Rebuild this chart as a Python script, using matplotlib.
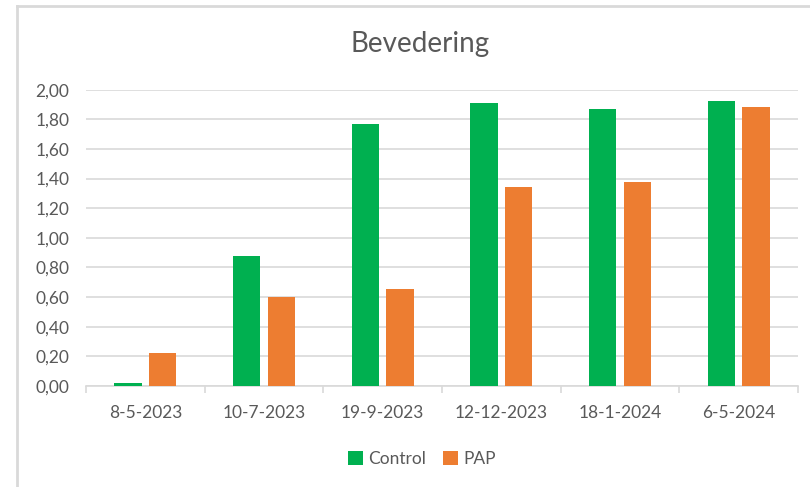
import numpy as np
import matplotlib.pyplot as plt
from matplotlib.lines import Line2D
from matplotlib.ticker import FuncFormatter

# data
dates = ['8-5-2023', '10-7-2023', '19-9-2023', '12-12-2023', '18-1-2024', '6-5-2024']
control = [0.02, 0.88, 1.77, 1.91, 1.87, 1.925]
pap = [0.22, 0.60, 0.655, 1.34, 1.38, 1.885]

green = '#00B050'
orange = '#ED7D31'
grid_col = '#D9D9D9'
text_col = '#595959'

plt.rcParams['font.family'] = ['Lato', 'DejaVu Sans']

fig = plt.figure(figsize=(8.1, 4.87), dpi=100)
ax = fig.add_axes([86 / 810, 1 - 386 / 487, (798 - 86) / 810, (386 - 89.7) / 487])

x = np.arange(len(dates))
w = 0.23
off = 0.145
ax.bar(x - off, control, w, color=green, label='Control', zorder=3)
ax.bar(x + off, pap, w, color=orange, label='PAP', zorder=3)

ax.set_xlim(-0.5, len(dates) - 0.5)
ax.set_ylim(0, 2.0)
ax.set_yticks(np.arange(0, 2.01, 0.2))
ax.yaxis.set_major_formatter(FuncFormatter(lambda v, p: f'{v:.2f}'.replace('.', ',')))
ax.grid(axis='y', color=grid_col, linewidth=1.2, zorder=0)

ax.set_xticks(x)
ax.set_xticklabels(dates)
ax.set_xticks(np.arange(-0.5, len(dates), 1), minor=True)
ax.tick_params(axis='x', which='major', length=0, pad=14, labelsize=12.5, labelcolor=text_col)
ax.tick_params(axis='x', which='minor', length=5, width=1.2, color=grid_col)
ax.tick_params(axis='y', length=0, pad=12, labelsize=12.5, labelcolor=text_col)

for s in ['top', 'right', 'left']:
    ax.spines[s].set_visible(False)
ax.spines['bottom'].set_color(grid_col)
ax.spines['bottom'].set_linewidth(1.2)

fig.text(420 / 810, 1 - 44 / 487, 'Bevedering', ha='center', va='center',
         fontsize=20, color=text_col)

ax.legend(loc='center', bbox_to_anchor=(0.472, -0.245), ncol=2, frameon=False,
          fontsize=12.5, labelcolor=text_col, handlelength=0.85, handleheight=0.85,
          handletextpad=0.3, columnspacing=1.0)

# chart border (top and left visible in the reference)
fig.add_artist(Line2D([17 / 810, 17 / 810], [0, 1 - 6 / 487], transform=fig.transFigure,
                      color=grid_col, linewidth=2))
fig.add_artist(Line2D([17 / 810, 1], [1 - 6 / 487, 1 - 6 / 487], transform=fig.transFigure,
                      color=grid_col, linewidth=2))

fig.savefig('out.png', dpi=100)
